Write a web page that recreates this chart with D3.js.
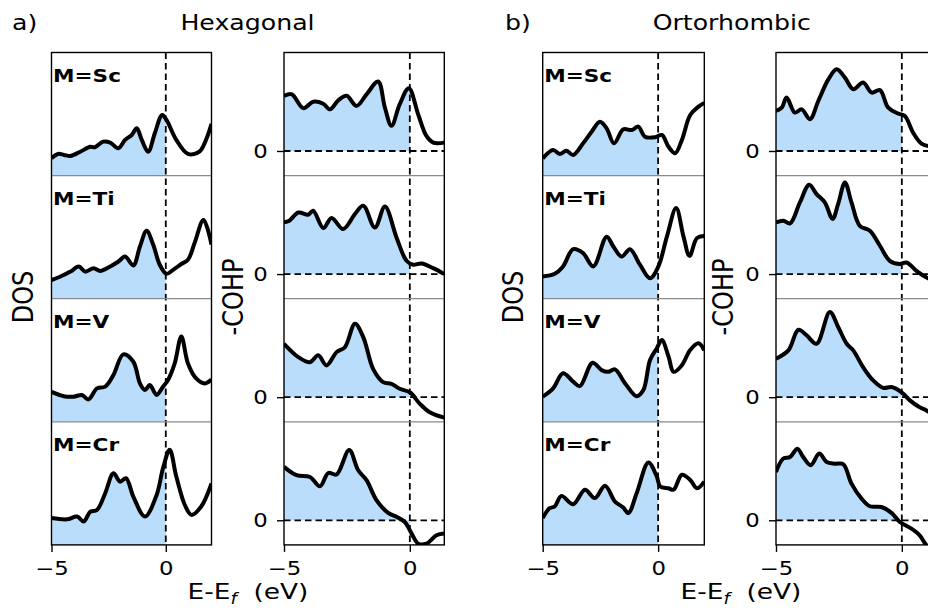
<!DOCTYPE html>
<html>
<head>
<meta charset="utf-8">
<script src="https://cdn.jsdelivr.net/npm/d3@7"></script>
<style>
  body { margin: 0; background: #fff; }
  svg { display: block; }
</style>
</head>
<body>
<div id="chart"></div>
<script>
"use strict";

// ---- data: [energy (eV), value] ----
// DOS in arbitrary units (0 = bottom of each sub-panel, 5 = top)
let hexDosSc = [[-5,0.70],[-4.72,0.88],[-4.45,0.84],[-4.17,0.80],[-3.74,0.97],[-3.3,1.17],[-3.1,1.15],[-2.74,1.38],[-2.43,1.34],[-2.08,1.11],[-1.78,1.45],[-1.49,1.65],[-1.27,1.92],[-1.05,1.45],[-0.77,0.97],[-0.48,1.72],[-0.16,2.46],[0.03,2.26],[0.46,1.45],[0.97,0.88],[1.47,0.97],[1.76,1.45],[2.0,2.1]];
let hexDosTi = [[-5,0.76],[-4.68,0.87],[-4.17,1.10],[-3.81,1.31],[-3.52,1.10],[-3.16,1.24],[-2.87,1.13],[-2.43,1.31],[-2.07,1.51],[-1.78,1.71],[-1.42,1.35],[-1.13,2.12],[-0.84,2.76],[-0.55,2.19],[-0.26,1.37],[0.03,1.01],[0.32,1.17],[0.68,1.41],[0.97,1.58],[1.26,2.26],[1.65,3.20],[2.0,2.2]];
let hexDosV = [[-5,1.22],[-4.46,1.04],[-4.03,1.02],[-3.67,1.09],[-3.38,0.91],[-3.01,1.36],[-2.65,1.43],[-2.29,1.90],[-1.86,2.74],[-1.42,2.44],[-1.13,1.56],[-0.91,1.29],[-0.70,1.49],[-0.40,1.09],[-0.12,1.43],[0.1,1.70],[0.39,2.37],[0.68,3.46],[0.97,2.37],[1.33,1.76],[1.70,1.56],[2.0,1.72]];
let hexDosCr = [[-5,1.09],[-4.32,1.04],[-3.88,1.15],[-3.59,0.95],[-3.30,1.35],[-3.01,1.42],[-2.65,2.10],[-2.29,2.91],[-2.0,2.57],[-1.74,2.71],[-1.42,1.96],[-0.91,1.15],[-0.40,2.03],[-0.12,3.12],[0.17,3.86],[0.46,2.78],[0.83,1.63],[1.12,1.22],[1.55,1.56],[2.0,2.5]];

let orthoDosSc = [[-5,0.70],[-4.55,1.04],[-4.26,0.88],[-3.97,1.01],[-3.68,0.84],[-3.25,1.31],[-2.88,1.78],[-2.52,2.19],[-2.23,1.92],[-1.91,1.31],[-1.51,1.88],[-1.14,1.85],[-0.86,1.99],[-0.57,1.58],[-0.13,1.56],[0.16,1.65],[0.45,1.17],[0.74,0.91],[1.03,1.45],[1.39,2.46],[1.75,2.80],[2.0,2.95]];
let orthoDosTi = [[-5,0.90],[-4.48,1.01],[-4.12,1.31],[-3.68,2.01],[-3.25,1.85],[-2.81,1.31],[-2.23,2.52],[-1.94,2.12],[-1.58,1.71],[-1.22,2.01],[-0.78,1.37],[-0.35,0.83],[0.01,1.31],[0.38,2.52],[0.78,3.68],[1.1,2.52],[1.36,1.74],[1.68,2.46],[2.0,2.55]];
let orthoDosV = [[-5,1.02],[-4.55,1.36],[-4.12,1.97],[-3.68,1.63],[-3.39,1.45],[-2.84,2.40],[-2.45,2.10],[-2.16,2.03],[-1.87,2.13],[-1.43,1.56],[-0.93,1.04],[-0.64,1.29],[-0.35,2.51],[-0.06,2.98],[0.16,3.32],[0.45,2.65],[0.67,2.03],[1.03,2.30],[1.39,2.92],[1.75,3.19],[2.0,2.9]];
let orthoDosCr = [[-5,1.09],[-4.70,1.49],[-4.48,1.56],[-4.19,1.99],[-3.68,1.65],[-3.17,2.24],[-2.74,1.90],[-2.30,2.40],[-1.87,1.76],[-1.51,1.52],[-1.29,1.29],[-0.93,2.10],[-0.42,3.35],[-0.06,2.78],[0.09,2.37],[0.45,2.30],[0.67,2.24],[1.03,2.85],[1.39,2.64],[1.68,2.30],[2.0,2.57]];

// -COHP in arbitrary units (0 = dashed zero line)
let hexCohpSc = [[-5,2.24],[-4.69,2.30],[-4.23,1.74],[-3.84,2.00],[-3.44,1.92],[-3.17,1.69],[-2.84,2.06],[-2.51,2.24],[-2.12,1.83],[-1.72,2.30],[-1.26,2.82],[-0.99,1.76],[-0.73,1.02],[-0.40,1.90],[-0.04,2.55],[0.33,1.49],[0.66,0.61],[0.93,0.34],[1.37,0.34]];
let hexCohpTi = [[-5,2.10],[-4.79,2.17],[-4.43,2.50],[-4.04,2.41],[-3.84,2.57],[-3.44,1.87],[-3.11,2.28],[-2.65,1.83],[-2.18,2.44],[-1.85,2.78],[-1.39,1.89],[-0.99,2.74],[-0.53,1.49],[-0.13,0.54],[0.13,0.38],[0.46,0.43],[0.93,0.24],[1.37,0.0]];
let hexCohpV = [[-5,2.17],[-4.43,1.63],[-3.97,1.42],[-3.64,1.70],[-3.31,1.29],[-2.91,1.83],[-2.58,2.03],[-2.18,2.98],[-1.85,2.44],[-1.46,1.15],[-1.06,0.61],[-0.73,0.54],[-0.40,0.34],[0,0.20],[0.40,-0.27],[0.79,-0.61],[1.37,-0.83]];
let hexCohpCr = [[-5,2.17],[-4.50,1.83],[-3.97,1.76],[-3.57,1.38],[-3.24,1.92],[-2.91,1.86],[-2.41,2.85],[-2.05,2.03],[-1.72,1.63],[-1.32,0.81],[-0.86,0.30],[-0.53,0.14],[-0.20,-0.07],[0.07,-0.54],[0.33,-0.95],[0.66,-0.95],[1.06,-0.61],[1.37,-0.54]];

let orthoCohpSc = [[-5,1.63],[-4.77,1.76],[-4.58,2.17],[-4.25,1.56],[-3.98,1.69],[-3.65,1.29],[-3.32,2.03],[-2.92,2.91],[-2.59,3.32],[-2.26,2.98],[-1.93,2.51],[-1.54,2.78],[-1.20,2.37],[-0.87,2.47],[-0.54,1.76],[-0.15,1.52],[0.12,1.42],[0.45,0.74],[0.78,0.30],[1.1,0.2],[1.37,0.25]];
let orthoCohpTi = [[-5,2.10],[-4.71,2.17],[-4.44,2.06],[-4.05,2.91],[-3.68,3.63],[-3.39,3.25],[-3.06,2.91],[-2.75,2.24],[-2.53,2.85],[-2.26,3.72],[-2.0,2.91],[-1.67,1.96],[-1.27,1.76],[-0.87,1.15],[-0.48,0.54],[-0.08,0.41],[0.19,0.47],[0.58,0.13],[0.98,-0.14],[1.37,-0.3]];
let orthoCohpV = [[-5,1.56],[-4.51,1.90],[-4.11,2.74],[-3.78,2.51],[-3.39,2.17],[-2.86,3.46],[-2.53,2.85],[-2.19,2.17],[-1.93,1.90],[-1.54,1.22],[-1.14,0.68],[-0.74,0.38],[-0.41,0.41],[-0.01,0.20],[0.32,-0.13],[0.71,-0.41],[0.98,-0.54],[1.37,-0.8]];
let orthoCohpCr = [[-5,1.96],[-4.71,2.51],[-4.44,2.57],[-4.15,2.91],[-3.92,2.57],[-3.62,2.24],[-3.28,2.71],[-2.99,2.37],[-2.66,2.30],[-2.33,2.28],[-2.0,1.49],[-1.60,0.88],[-1.27,0.57],[-0.81,0.54],[-0.41,0.30],[-0.08,-0.07],[0.38,-0.34],[0.71,-0.61],[0.98,-1.02],[1.37,-1.4]];

let metals = ["M=Sc", "M=Ti", "M=V", "M=Cr"];
let xTicks = [-5, 0];
let cohpTicks = [0];
let titles = ["Hexagonal", "Ortorhombic"];
let tags = ["a)", "b)"];

// ---- layout ----
let W = 928, H = 613;
let SX = 1.2;          // the reference text is stretched horizontally
let panelTop = 52.5;
let rowH = 123.1;
let fillColor = "#b9ddfb";
let tickFmt = d3.format("d");

let svg = d3.select("#chart").append("svg")
  .attr("width", W)
  .attr("height", H)
  .style("font-family", "DejaVu Sans");

let defs = svg.append("defs");

function addText(parent, x, y, str, size, anchor, rotate) {
  return parent.append("text")
    .attr("transform", "translate(" + x + "," + y + ") scale(" + SX + ",1)" + (rotate ? " rotate(-90)" : ""))
    .attr("text-anchor", anchor)
    .style("font-size", size + "px")
    .text(str);
}

let panels = [
  { x0: 51.5,  x1: 211.5, domain: [-5, 2],    kind: "dos",  curves: [hexDosSc, hexDosTi, hexDosV, hexDosCr] },
  { x0: 284,   x1: 444.3, domain: [-5, 1.37], kind: "cohp", curves: [hexCohpSc, hexCohpTi, hexCohpV, hexCohpCr] },
  { x0: 542.7, x1: 704.3, domain: [-5, 2],    kind: "dos",  curves: [orthoDosSc, orthoDosTi, orthoDosV, orthoDosCr] },
  { x0: 776,   x1: 936.3, domain: [-5, 1.37], kind: "cohp", curves: [orthoCohpSc, orthoCohpTi, orthoCohpV, orthoCohpCr] }
];

let panelBottom = panelTop + rowH * metals.length;

panels.forEach(function(p, pi) {
  let x = d3.scaleLinear().domain(p.domain).range([p.x0, p.x1]);
  let g = svg.append("g");

  let rows = p.curves.map(function(data, ri) {
    let yTop = panelTop + ri * rowH;
    let yBot = yTop + rowH;
    let y = d3.scaleLinear()
      .domain(p.kind === "dos" ? [0, 5] : [-1, 4])
      .range([yBot, yTop]);

    // clip for the whole sub-panel and for the occupied (E<0) part
    defs.append("clipPath").attr("id", "c" + pi + "_" + ri)
      .append("rect").attr("x", p.x0).attr("y", yTop)
      .attr("width", p.x1 - p.x0).attr("height", rowH);
    defs.append("clipPath").attr("id", "f" + pi + "_" + ri)
      .append("rect").attr("x", p.x0).attr("y", yTop)
      .attr("width", x(0) - p.x0).attr("height", rowH);

    let area = d3.area()
      .x(function(d) { return x(d[0]); })
      .y0(y(0))
      .y1(function(d) { return y(d[1]); })
      .curve(d3.curveCatmullRom);

    g.append("path")
      .datum(data)
      .attr("clip-path", "url(#f" + pi + "_" + ri + ")")
      .attr("fill", fillColor)
      .attr("d", area);

    return { data: data, y: y, yTop: yTop, yBot: yBot };
  });

  // zero lines in -COHP
  if (p.kind === "cohp") {
    rows.forEach(function(r) {
      g.append("line")
        .attr("x1", p.x0).attr("x2", p.x1)
        .attr("y1", r.y(0)).attr("y2", r.y(0))
        .attr("stroke", "black")
        .attr("stroke-width", 1.8)
        .attr("stroke-dasharray", "6.5,4");
    });
  }

  // Fermi level
  g.append("line")
    .attr("x1", x(0)).attr("x2", x(0))
    .attr("y1", panelTop).attr("y2", panelBottom)
    .attr("stroke", "black")
    .attr("stroke-width", 1.8)
    .attr("stroke-dasharray", "6.5,4");

  // curves
  rows.forEach(function(r, ri) {
    let line = d3.line()
      .x(function(d) { return x(d[0]); })
      .y(function(d) { return r.y(d[1]); })
      .curve(d3.curveCatmullRom);

    g.append("path")
      .datum(r.data)
      .attr("clip-path", "url(#c" + pi + "_" + ri + ")")
      .attr("fill", "none")
      .attr("stroke", "black")
      .attr("stroke-width", 4)
      .attr("stroke-linejoin", "round")
      .attr("d", line);
  });

  // separators between sub-panels
  rows.slice(1).forEach(function(r) {
    g.append("line")
      .attr("x1", p.x0).attr("x2", p.x1)
      .attr("y1", r.yTop).attr("y2", r.yTop)
      .attr("stroke", "#8a8a8a")
      .attr("stroke-width", 1.3);
  });

  // frame
  g.append("rect")
    .attr("x", p.x0).attr("y", panelTop)
    .attr("width", p.x1 - p.x0).attr("height", panelBottom - panelTop)
    .attr("fill", "none")
    .attr("stroke", "black")
    .attr("stroke-width", 1.4);

  // bottom axis
  let xAxis = g.append("g")
    .attr("transform", "translate(0," + panelBottom + ")")
    .call(d3.axisBottom(x).tickValues(xTicks).tickFormat(tickFmt).tickSize(7).tickPadding(10));
  xAxis.select(".domain").remove();
  xAxis.selectAll("line").attr("stroke-width", 1.4);
  xAxis.selectAll("text")
    .attr("font-family", "DejaVu Sans")
    .style("font-size", "19px")
    .attr("transform", "scale(" + SX + ",1)");

  // left axis (0 tick) for -COHP
  if (p.kind === "cohp") {
    rows.forEach(function(r) {
      let yAxis = g.append("g")
        .attr("transform", "translate(" + p.x0 + ",0)")
        .call(d3.axisLeft(r.y).tickValues(cohpTicks).tickFormat(tickFmt).tickSize(7).tickPadding(6.5));
      yAxis.select(".domain").remove();
      yAxis.selectAll("line").attr("stroke-width", 1.4);
      yAxis.selectAll("text")
        .attr("font-family", "DejaVu Sans")
        .style("font-size", "19px")
        .attr("transform", "scale(" + SX + ",1)");
    });
  }

  // metal labels
  if (p.kind === "dos") {
    rows.forEach(function(r, ri) {
      addText(g, p.x0 + 1.5, r.yTop + 29.3, metals[ri], 18, "start")
        .style("font-weight", "bold");
    });
  }
});

// y labels
addText(svg, 33, 297, "DOS", 24, "middle", true);
addText(svg, 243, 297, "-COHP", 24, "middle", true);
addText(svg, 523, 297, "DOS", 24, "middle", true);
addText(svg, 733, 297, "-COHP", 24, "middle", true);

// titles
addText(svg, 12, 29.5, tags[0], 21, "start");
addText(svg, 247.5, 29.5, titles[0], 21, "middle");
addText(svg, 505, 29.5, tags[1], 21, "start");
addText(svg, 731.7, 29.5, titles[1], 21, "middle");

// x labels: E-E_f  (eV)
[248, 741].forEach(function(cx) {
  let t = addText(svg, cx, 599, "", 22, "middle")
    .attr("xml:space", "preserve")
    .style("white-space", "pre");
  t.append("tspan").text("E-E");
  t.append("tspan").text("f")
    .style("font-style", "italic")
    .style("font-size", "15px")
    .attr("dy", 5);
  t.append("tspan").text("  (eV)").attr("dy", -5);
});
</script>
</body>
</html>
